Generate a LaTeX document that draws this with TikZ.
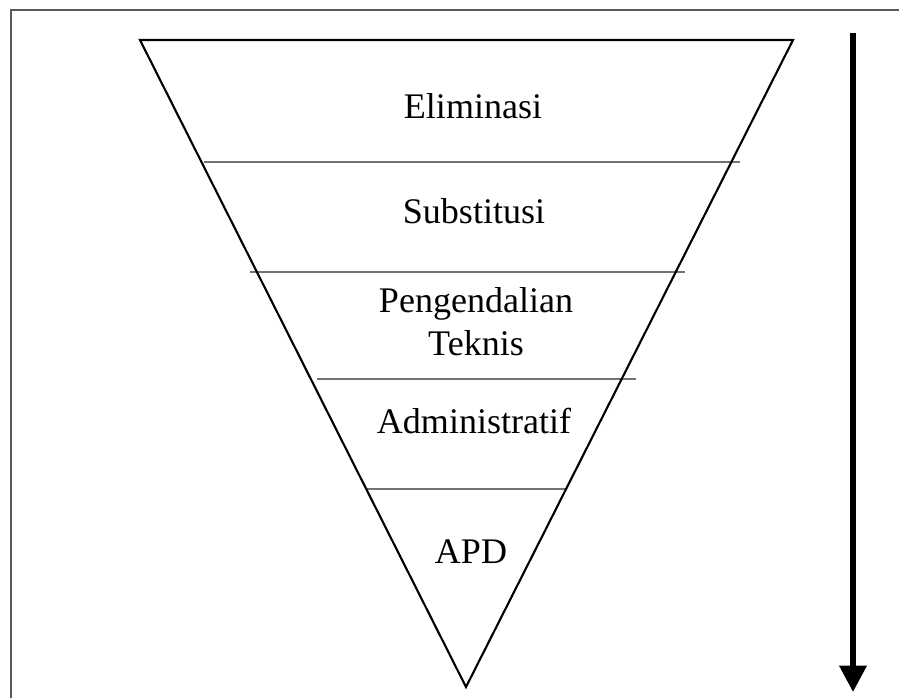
\documentclass[tikz,border=0pt]{standalone}
\usepackage{fontspec}
\setmainfont{Liberation Serif}
\usetikzlibrary{arrows.meta}

\begin{document}
\begin{tikzpicture}[x=0.02cm, y=-0.02cm]
            % frame and size of the picture
            \useasboundingbox (0,0) rectangle (899,697);
            \draw[black!65, line width=1.2pt] (11,720) -- (11,10) -- (920,10);

            % corners of the inverted triangle
            \coordinate (tl) at (140,40);
            \coordinate (tr) at (793,40);
            \coordinate (tip) at (466,687);

            % dividing lines between the levels
            \draw[black!55, line width=0.9pt] (204,162) -- (740,162);
            \draw[black!55, line width=0.9pt] (250,272) -- (685,272);
            \draw[black!55, line width=0.9pt] (317,379) -- (636,379);
            \draw[black!55, line width=0.9pt] (367,489) -- (566,489);

            % the triangle itself
            \draw[line width=1.2pt, line join=miter] (tl) -- (tr) -- (tip) -- cycle;

            % level labels
            \node[anchor=base, font=\fontsize{20.5}{24}\selectfont] (elim) at (473,118) {Eliminasi};
            \node[anchor=base, font=\fontsize{20.5}{24}\selectfont] (subst) at (474,223) {Substitusi};
            \node[anchor=base, font=\fontsize{20.5}{24}\selectfont, align=center] (teknis) at (476,355) {Pengendalian\\Teknis};
            \node[anchor=base, font=\fontsize{20.5}{24}\selectfont] (admin) at (474,433) {Administratif};
            \node[anchor=base, font=\fontsize{20.5}{24}\selectfont] (apd) at (471,563) {APD};

            % arrow on the right
            \coordinate (atop) at (853,33);
            \coordinate (abot) at (853,692);
            \draw[line width=3.2pt, -{Triangle[length=15pt, width=15pt]}] (atop) -- (abot);
\end{tikzpicture}
\end{document}
